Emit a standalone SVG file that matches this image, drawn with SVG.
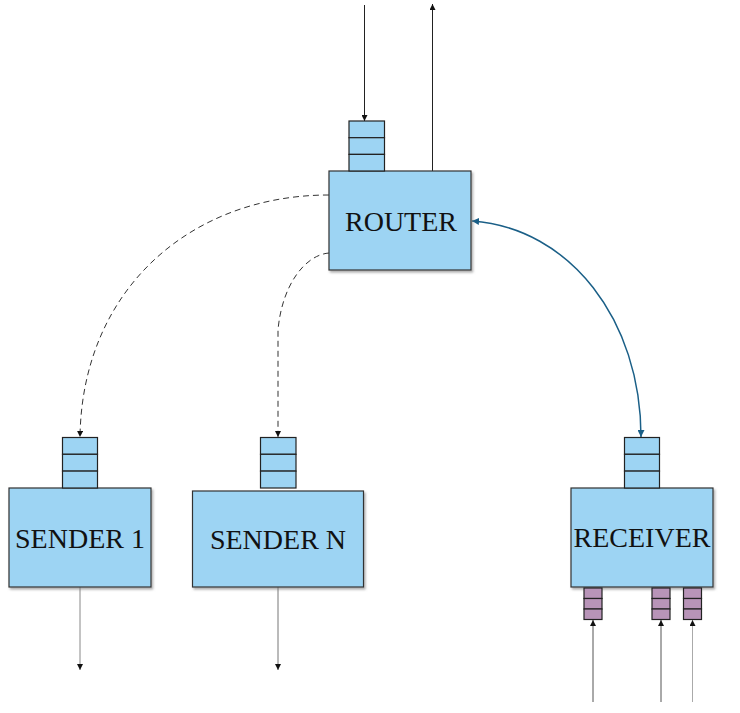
<svg xmlns="http://www.w3.org/2000/svg" width="740" height="713" viewBox="0 0 740 713">
<defs>
<filter id="sh" x="-10%" y="-10%" width="130%" height="130%">
<feDropShadow dx="1.5" dy="2" stdDeviation="1" flood-color="#777" flood-opacity="0.6"/>
</filter>
<marker id="ah" viewBox="0 0 10 10" refX="10" refY="5" markerWidth="6" markerHeight="6" markerUnits="userSpaceOnUse" orient="auto">
<path d="M0,0 L10,5 L0,10 z" fill="#111"/>
</marker>
<marker id="ahb" viewBox="0 0 10 10" refX="10" refY="5" markerWidth="7" markerHeight="7" markerUnits="userSpaceOnUse" orient="auto-start-reverse">
<path d="M0,0 L10,5 L0,10 z" fill="#1a5f87"/>
</marker>
</defs>
<style>
.box{fill:#9dd4f3;stroke:#333;stroke-width:1.2;filter:url(#sh)}
.q{fill:#9dd4f3;stroke:#222;stroke-width:1.2}
.pq{fill:#b894b8;stroke:#222;stroke-width:1.2}
.lbl{font-family:"Liberation Serif","Times New Roman",serif;font-size:28px;fill:#111;text-anchor:middle}
.dash{fill:none;stroke:#333;stroke-width:1;stroke-dasharray:6,4}
.ln{fill:none;stroke-width:1}
</style>
<rect width="740" height="713" fill="#fff"/>

<g id="connectors">
<line class="ln" x1="364.5" y1="5" x2="364.5" y2="121" stroke="#222" marker-end="url(#ah)"/>
<line class="ln" x1="432.5" y1="171" x2="432.5" y2="4" stroke="#222" marker-end="url(#ah)"/>
<path class="dash" d="M329,195 C190,195 82,290 80,437" marker-end="url(#ah)"/>
<path class="dash" d="M329,253 C305,255 282,285 278,330 L278,437" marker-end="url(#ah)"/>
<path fill="none" stroke="#1a5f87" stroke-width="1.5" d="M472,221 C570,228 641,320 641,437" marker-start="url(#ahb)" marker-end="url(#ahb)"/>
<line class="ln" x1="80" y1="587" x2="80" y2="670" stroke="#888" marker-end="url(#ah)"/>
<line class="ln" x1="278" y1="587" x2="278" y2="670" stroke="#777" marker-end="url(#ah)"/>
<line class="ln" x1="593" y1="702" x2="593" y2="620" stroke="#555" marker-end="url(#ah)"/>
<line class="ln" x1="661" y1="702" x2="661" y2="620" stroke="#555" marker-end="url(#ah)"/>
<line class="ln" x1="692.5" y1="702" x2="692.5" y2="620" stroke="#aaa" marker-end="url(#ah)"/>
</g>

<g id="router">
<rect class="box" x="329" y="171" width="142" height="99"/>
<rect class="q" x="349" y="121" width="35.5" height="16.7"/>
<rect class="q" x="349" y="137.7" width="35.5" height="16.7"/>
<rect class="q" x="349" y="154.4" width="35.5" height="16.6"/>
<text class="lbl" x="401" y="231">ROUTER</text>
</g>

<g id="sender1">
<rect class="box" x="9" y="488" width="142" height="99"/>
<rect class="q" x="62.5" y="437.5" width="35" height="16.8"/>
<rect class="q" x="62.5" y="454.3" width="35" height="16.8"/>
<rect class="q" x="62.5" y="471.1" width="35" height="16.9"/>
<text class="lbl" x="80" y="547.5">SENDER 1</text>
</g>

<g id="senderN">
<rect class="box" x="192.5" y="491" width="171" height="96"/>
<rect class="q" x="260.5" y="437.5" width="35.5" height="16.8"/>
<rect class="q" x="260.5" y="454.3" width="35.5" height="16.8"/>
<rect class="q" x="260.5" y="471.1" width="35.5" height="16.9"/>
<text class="lbl" x="278" y="549">SENDER N</text>
</g>

<g id="receiver">
<rect class="box" x="571" y="488" width="142" height="99"/>
<rect class="q" x="624.5" y="437.5" width="35" height="16.8"/>
<rect class="q" x="624.5" y="454.3" width="35" height="16.8"/>
<rect class="q" x="624.5" y="471.1" width="35" height="16.9"/>
<text class="lbl" x="642" y="547">RECEIVER</text>
<rect class="pq" x="584" y="588" width="18" height="10.5"/>
<rect class="pq" x="584" y="598.5" width="18" height="10.5"/>
<rect class="pq" x="584" y="609" width="18" height="10.5"/>
<rect class="pq" x="652" y="588" width="18" height="10.5"/>
<rect class="pq" x="652" y="598.5" width="18" height="10.5"/>
<rect class="pq" x="652" y="609" width="18" height="10.5"/>
<rect class="pq" x="683.5" y="588" width="18" height="10.5"/>
<rect class="pq" x="683.5" y="598.5" width="18" height="10.5"/>
<rect class="pq" x="683.5" y="609" width="18" height="10.5"/>
</g>
</svg>
